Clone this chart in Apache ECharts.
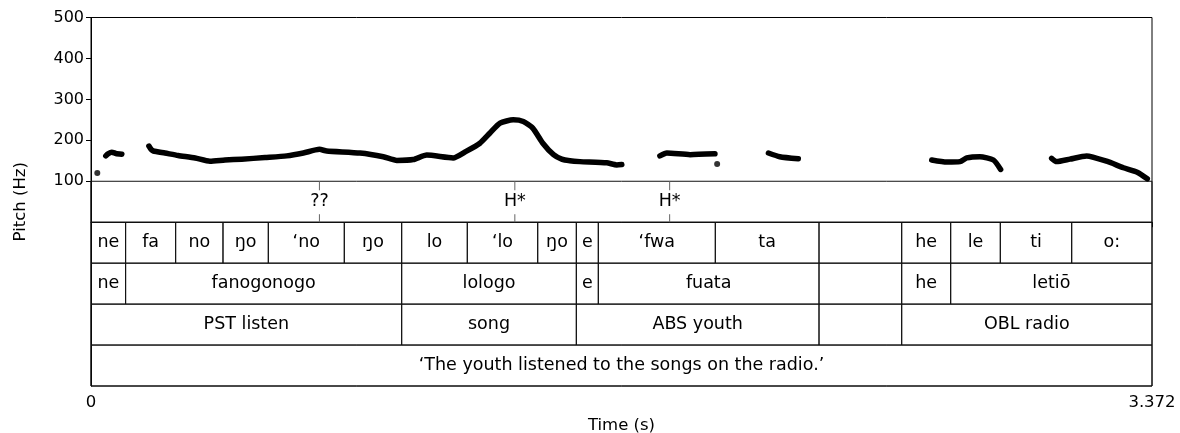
<!DOCTYPE html>
<html>
<head>
<meta charset="utf-8">
<script src="https://cdn.jsdelivr.net/npm/echarts@6/dist/echarts.min.js"></script>
<style>
html,body{margin:0;padding:0;background:#fff;}
#chart{width:1180px;height:433px;}
</style>
</head>
<body>
<div id="chart"></div>
<script>
// ---- Data ----
const tMax = 3.372;
const yTicks = [100, 200, 300, 400, 500];
const xTicks = [0, 3.372];

// pitch track (null = unvoiced gap)
const pitchT = [
  0.047, 0.054, 0.066, 0.079, 0.098, null,
  0.184, 0.191, 0.198, 0.235, 0.277, 0.331, 0.378, 0.426, 0.479, 0.553, 0.622, 0.675, 0.726, 0.749,
  0.855, 0.929, 0.972, 1.024, 1.067, 1.151, 1.192, 1.236, 1.268, 1.300, 1.342, 1.374, 1.404, 1.436,
  1.470, 1.496, 1.522, 1.554, 1.639, 1.671, 1.687, null,
  1.808, 1.830, 1.904, 1.983, null,
  2.153, 2.189, 2.248, null,
  2.672, 2.720, 2.762, 2.783, 2.825, 2.868, 2.891, null,
  3.053, 3.069, 3.111, 3.164, 3.228, 3.281, 3.325, 3.357
];
const pitchHz = [
  162, 167, 171, 168, 166, null,
  186, 178, 174, 169, 163, 157, 149, 152, 154, 158, 162, 169, 178, 174,
  169, 160, 151, 153, 164, 157, 173, 193, 218, 242, 250, 246, 230, 193,
  165, 154, 150, 148, 145, 140, 141, null,
  162, 169, 165, 167, null,
  169, 160, 155, null,
  152, 147, 148, 157, 160, 152, 129, null,
  156, 148, 154, 162, 149, 133, 122, 106
];
// isolated pitch points
const dotT = [0.020, 1.990];
const dotHz = [120, 142];

// tone tier (points)
const toneT = [0.726, 1.347, 1.839];
const toneLabels = ['??', 'H*', 'H*'];

// phone tier
const phoneBounds = [0, 0.110, 0.269, 0.4195, 0.5635, 0.805, 0.9874, 1.1959, 1.4197, 1.5424, 1.6123, 1.9841, 2.3137, 2.5765, 2.7322, 2.8899, 3.1168, 3.372];
const phoneLabels = ['ne', 'fa', 'no', 'ŋo', '‘no', 'ŋo', 'lo', '‘lo', 'ŋo', 'e', '‘fwa', 'ta', '', 'he', 'le', 'ti', 'o:'];

// word tier
const wordBounds = [0, 0.110, 0.9874, 1.5424, 1.6123, 2.3137, 2.5765, 2.7322, 3.372];
const wordLabels = ['ne', 'fanogonogo', 'lologo', 'e', 'fuata', '', 'he', 'letiō'];

// gloss tier
const glossBounds = [0, 0.9874, 1.5424, 2.3137, 2.5765, 3.372];
const glossLabels = ['PST listen', 'song', 'ABS youth', '', 'OBL radio'];

// translation tier
const transBounds = [0, 3.372];
const transLabels = ['‘The youth listened to the songs on the radio.’'];

// ---- Build ----
const FONT = 'DejaVu Sans';
const TIER_FONT = '17.5px "' + FONT + '"';
const tiers = [
  {bounds: phoneBounds, labels: phoneLabels, top: 0},
  {bounds: wordBounds, labels: wordLabels, top: -100},
  {bounds: glossBounds, labels: glossLabels, top: -200},
  {bounds: transBounds, labels: transLabels, top: -300}
];
const intervalData = [];
const intervalText = [];
// tone tier frame
intervalData.push([0, tMax, 100]);
intervalText.push('');
tiers.forEach(tr => {
  for (let i = 0; i < tr.labels.length; i++) {
    intervalData.push([tr.bounds[i], tr.bounds[i + 1], tr.top]);
    intervalText.push(tr.labels[i]);
  }
});

const lineData = pitchT.map((t, i) => (t == null || pitchHz[i] == null) ? '-' : [t, pitchHz[i]]);

const chart = echarts.init(document.getElementById('chart'), null, {renderer: 'canvas'});
chart.setOption({
  animation: false,
  textStyle: {fontFamily: FONT},
  grid: {left: 91, right: 28, top: 17.5, bottom: 47, containLabel: false, outerBoundsMode: 'none',
    show: true, borderColor: '#000', borderWidth: 1, backgroundColor: 'transparent'},
  xAxis: {
    type: 'value', min: 0, max: tMax,
    name: 'Time (s)', nameLocation: 'middle', nameGap: 31,
    nameTextStyle: {fontFamily: FONT, fontSize: 16.5, color: '#000'},
    axisLine: {show: true, lineStyle: {color: '#000', width: 1}},
    axisTick: {show: true, customValues: xTicks, length: 5, lineStyle: {color: '#000'}},
    axisLabel: {customValues: xTicks, fontFamily: FONT, fontSize: 16.5, color: '#000', margin: 8,
      formatter: v => String(v)},
    splitLine: {show: false}
  },
  yAxis: {
    type: 'value', min: -400, max: 500, interval: 100,
    name: 'Pitch (Hz)', nameLocation: 'middle', nameGap: 62, nameRotate: 90,
    nameTextStyle: {fontFamily: FONT, fontSize: 16.5, color: '#000'},
    axisLine: {show: true, lineStyle: {color: '#000', width: 1}},
    axisTick: {show: true, customValues: yTicks, length: 5, lineStyle: {color: '#000'}},
    axisLabel: {customValues: yTicks, fontFamily: FONT, fontSize: 16, color: '#000', margin: 7},
    splitLine: {show: false}
  },
  series: [
    {
      type: 'custom',
      silent: true,
      data: intervalData,
      encode: {x: [0, 1], y: 2},
      renderItem: function (params, api) {
        const s = api.value(0), e = api.value(1), top = api.value(2);
        const p1 = api.coord([s, top]);
        const p2 = api.coord([e, top - 100]);
        const txt = intervalText[params.dataIndex];
        return {
          type: 'group',
          children: [
            {type: 'rect', shape: {x: p1[0], y: p1[1], width: p2[0] - p1[0], height: p2[1] - p1[1]},
              style: {fill: 'none', stroke: '#111', lineWidth: 1}},
            {type: 'text', x: (p1[0] + p2[0]) / 2, y: (p1[1] + p2[1]) / 2,
              style: {text: txt, fill: '#000', font: TIER_FONT, align: 'center', verticalAlign: 'middle'}}
          ]
        };
      },
      z: 2
    },
    {
      type: 'custom',
      silent: true,
      data: toneT.map(t => [t, 50]),
      encode: {x: 0, y: 1},
      renderItem: function (params, api) {
        const t = api.value(0);
        const a = api.coord([t, 100]);
        const b = api.coord([t, 0]);
        const c = api.coord([t, 50]);
        return {
          type: 'group',
          children: [
            {type: 'line', shape: {x1: a[0], y1: a[1], x2: a[0], y2: a[1] + 9}, style: {stroke: '#666', lineWidth: 1}},
            {type: 'line', shape: {x1: b[0], y1: b[1] - 8, x2: b[0], y2: b[1]}, style: {stroke: '#666', lineWidth: 1}},
            {type: 'text', x: c[0], y: c[1], style: {text: toneLabels[params.dataIndex], fill: '#000', font: TIER_FONT, align: 'center', verticalAlign: 'middle'}}
          ]
        };
      },
      z: 3
    },
    {
      type: 'line',
      data: lineData,
      showSymbol: false,
      connectNulls: false,
      smooth: 0.2,
      lineStyle: {color: '#000', width: 5.5, cap: 'round', join: 'round'},
      silent: true,
      z: 4
    },
    {
      type: 'scatter',
      data: dotT.map((t, i) => [t, dotHz[i]]),
      symbol: 'circle',
      symbolSize: 6,
      itemStyle: {color: '#000'},
      silent: true,
      z: 4
    }
  ]
});
</script>
</body>
</html>
